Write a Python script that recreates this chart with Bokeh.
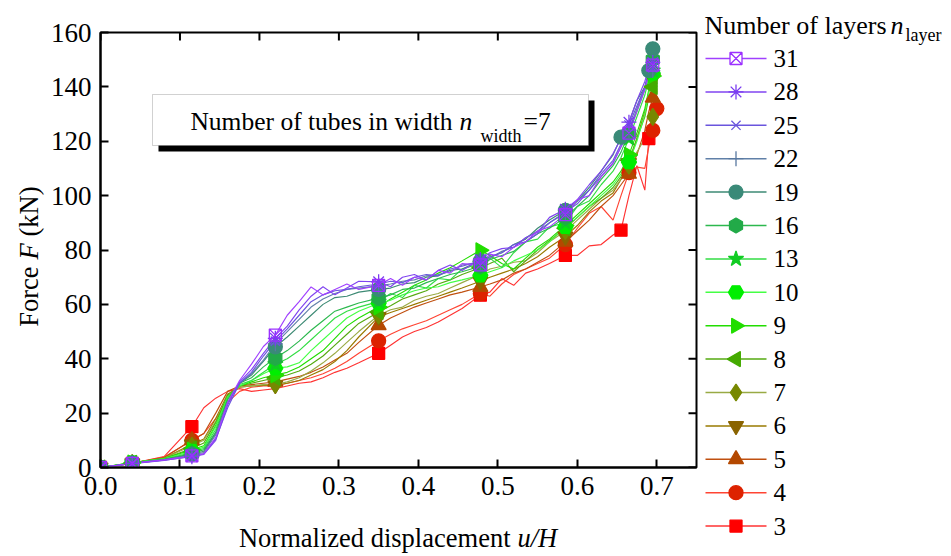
import math
from bokeh.plotting import figure
from bokeh.models import Range1d, FixedTicker, Label, BoxAnnotation, NumeralTickFormatter
from bokeh.embed import file_html
from bokeh.resources import INLINE
from bokeh.core.properties import value

# ---------------- data ----------------
x_grid = [0.0, 0.04, 0.08, 0.115, 0.13, 0.145, 0.16, 0.175, 0.19, 0.205, 0.22, 0.235, 0.25,
          0.265, 0.28, 0.295, 0.31, 0.325, 0.35, 0.365, 0.38, 0.395, 0.41, 0.425, 0.44, 0.455,
          0.478, 0.49, 0.505, 0.52, 0.535, 0.55, 0.565, 0.585, 0.6, 0.615, 0.63, 0.645, 0.655,
          0.665, 0.675, 0.685, 0.69, 0.695, 0.70]

y_n31 = [0, 1.5, 2.8, 4.3, 5.0, 11, 24, 32, 38, 44.5, 48.7, 56, 61, 66.4, 63.5, 65.5, 67.5, 65.5, 67, 69.5,
         67, 70, 69, 72.5, 71.5, 75, 74.5, 78.5, 77.5, 81, 83, 87, 88.5, 93, 98.5, 100, 107, 112, 118, 123,
         131, 139, 145, 148, 141]
y_n28 = [0, 1.5, 2.7, 4.0, 4.8, 10, 23, 31.5, 36, 42, 47.5, 52, 58, 63, 66.5, 63.5, 66, 68.5, 68.3, 66.5,
         70, 71, 69, 72.5, 74.5, 72.5, 76.5, 79, 80.5, 81, 84.5, 86.5, 92, 95, 98.5, 104, 109, 115.5, 121, 127,
         135, 142, 147, 149, 138]
y_n25 = [0, 1.4, 2.6, 4.2, 5.0, 10.5, 22, 31, 35, 41, 46.5, 51, 56, 61, 63.5, 65, 65.5, 66.5, 67.5, 68.5,
         68, 70, 71, 70.5, 73, 74, 76, 77.5, 79, 82, 83, 86, 90, 94, 97, 102, 108, 113, 119, 126,
         133, 140, 145, 147, 140]
y_n22 = [0, 1.5, 2.8, 4.5, 5.5, 12, 24, 31, 34.5, 39.5, 45.5, 50, 54.5, 59, 62, 64, 65.5, 66, 66.8, 67.5,
         68.5, 69, 70.5, 71, 72, 74.5, 75.5, 77, 79.5, 81, 84.5, 87, 90, 93.5, 98, 102, 107, 112, 118, 124,
         132, 140, 144, 146, 139]
y_n19 = [0, 1.6, 2.9, 4.8, 6, 12.5, 24, 31, 34, 39, 44.4, 48, 52, 56, 60, 62.5, 63, 64.5, 65.5, 66,
         67.5, 68, 70, 70.5, 72.5, 73, 76, 77.5, 79, 82, 84, 88, 91, 94.6, 98, 103, 109, 115, 121.5, 127,
         135, 140, 146, 154, 141]
y_n16 = [0, 1.6, 3, 5, 6.5, 13, 25, 31, 33, 37, 40.3, 43, 46.5, 50.5, 54, 57.5, 59, 60.5, 62.3, 63.5,
         65.5, 66, 68, 69.5, 71, 72, 74, 76.5, 78, 79.5, 83, 86, 88, 92, 96, 100, 106, 111, 116, 123,
         131, 139, 145, 150, 143]
y_n13 = [0, 1.7, 3, 5.5, 7, 14, 25.5, 30.5, 32, 35, 38, 40, 43, 47, 51, 55, 57.5, 59, 61, 64,
         62.5, 67, 66, 69.5, 69, 73, 75, 77, 73.5, 79, 83, 84, 88.5, 90, 96, 98, 104, 109, 114, 121,
         129, 137, 143, 146, 140]
y_n10 = [0, 1.8, 3.2, 6, 7.5, 15, 26, 30, 32, 34.5, 36.5, 37, 38.5, 43, 47, 51, 55, 57.5, 60.4, 61.5,
         63.5, 65, 66, 66.5, 68, 69, 70.7, 72, 73.5, 76, 78, 80, 83, 88.5, 92, 96, 100, 104, 108, 112.3,
         120, 130, 138, 145, 149]
y_n9 = [0, 1.8, 3.3, 6.5, 8, 15.5, 26, 30, 31.5, 33, 34, 35, 37, 40, 43, 47.5, 52, 55, 59, 62,
        64.5, 67, 69, 71.5, 73.5, 76, 79.9, 78, 75, 73, 77, 81, 84, 89, 93, 97, 101, 105, 109, 115,
        123, 132, 139, 144, 141]
y_n8 = [0, 1.7, 3.3, 7, 9, 16.5, 26.5, 30, 31, 32, 33, 34, 35.5, 38, 41, 45, 49, 53, 57.2, 59.5,
        62, 63.5, 65, 67.5, 69, 71, 73.5, 75, 77, 72, 76, 80, 83.5, 88, 92, 96, 99, 103, 107, 113,
        121, 129, 136, 140, 144]
y_n7 = [0, 1.6, 3.4, 8, 10, 17, 26.5, 29.5, 30, 30.5, 30.5, 31.5, 33, 35.5, 38.5, 42, 46, 50, 56, 58,
        59, 61.5, 63, 64, 66, 68, 71, 73, 74, 75.5, 76, 79, 83, 87, 91, 95, 99, 102, 106, 111,
        116, 121, 125, 129, 135]
y_n6 = [0, 1.6, 3.5, 8.5, 10.5, 18, 27, 29.5, 30, 30.2, 30.3, 31, 32, 34, 36, 39, 43, 48, 55.4, 57,
        58.5, 60, 61.5, 63, 64.5, 66, 68.5, 70, 71.5, 73, 75, 77.5, 81, 85, 89, 94, 98, 101, 106, 112,
        121, 131, 138, 143, 141]
y_n5 = [0, 1.5, 3.7, 10, 12.5, 20, 28, 30, 30.5, 31, 31.5, 32.5, 33.5, 35, 37, 39.5, 42, 46, 52.3, 55,
        57, 59, 60.5, 62, 63.5, 64.5, 66.4, 67.5, 69, 71.5, 73, 75.5, 78, 83, 87, 91, 96, 100, 104, 108,
        115, 124, 131, 136, 139]
y_n4 = [0, 1.5, 3.8, 10, 12.5, 18, 24, 28, 29.5, 30, 30, 31, 32, 33, 34.5, 36.5, 39, 42, 46.6, 49,
        51, 52.5, 54, 56, 58, 60, 64, 63, 67.5, 71, 73, 75, 77, 82, 88, 93.5, 96, 91, 100, 108.5,
        110.5, 110, 118, 124, 132]
y_n3 = [0, 1.5, 4, 15, 22, 25.5, 28, 29, 28, 28.5, 29, 30, 31, 31.5, 33, 35, 36.5, 38.5, 42, 45,
        48, 50, 51.5, 53.5, 56, 58.5, 63.4, 64.5, 69.5, 67, 71.5, 73, 75, 78, 78, 81.5, 82, 85.5, 87.3, 100,
        111, 102, 121, 132, 142]

layer_labels = ["31", "28", "25", "22", "19", "16", "13", "10", "9", "8", "7", "6", "5", "4", "3"]
series = {"31": y_n31, "28": y_n28, "25": y_n25, "22": y_n22, "19": y_n19, "16": y_n16, "13": y_n13,
          "10": y_n10, "9": y_n9, "8": y_n8, "7": y_n7, "6": y_n6, "5": y_n5, "4": y_n4, "3": y_n3}

marker_idx_default = [0, 1, 3, 10, 18, 26, 33, 39, 43]
marker_idx = {"3": [0, 1, 3, 18, 26, 33, 38, 42],
              "4": [0, 1, 3, 18, 26, 33, 39, 43, 44],
              "19": [0, 1, 3, 10, 18, 26, 33, 38, 42, 43]}

x_ticks = [0.0, 0.1, 0.2, 0.3, 0.4, 0.5, 0.6, 0.7]
y_ticks = [0, 20, 40, 60, 80, 100, 120, 140, 160]

# ---------------- styles ----------------
P2 = math.pi / 2
style = {
    "31": dict(line="#a040ff", marker="square_x", mc="#9b30ff", fill=None, size=12, angle=0),
    "28": dict(line="#8044f0", marker="asterisk", mc="#7a3cf0", fill=None, size=15, angle=0),
    "25": dict(line="#6a55dd", marker="x", mc="#6a55dd", fill=None, size=13, angle=0),
    "22": dict(line="#6080a8", marker="cross", mc="#5878a0", fill=None, size=15, angle=0),
    "19": dict(line="#3d8a74", marker="circle", mc="#3a8a78", fill="#3a8a78", size=14, angle=0),
    "16": dict(line="#2cb84e", marker="hex", mc="#22aa48", fill="#22aa48", size=15, angle=P2),
    "13": dict(line="#33dd44", marker="star", mc="#11cc22", fill="#11cc22", size=16, angle=0),
    "10": dict(line="#44ff44", marker="hex", mc="#00ee00", fill="#00ee00", size=15, angle=0),
    "9": dict(line="#22dd00", marker="triangle", mc="#22dd00", fill="#22dd00", size=15, angle=-P2),
    "8": dict(line="#55aa11", marker="triangle", mc="#44aa00", fill="#44aa00", size=15, angle=P2),
    "7": dict(line="#99aa44", marker="diamond", mc="#778800", fill="#778800", size=17, angle=0),
    "6": dict(line="#997a00", marker="inverted_triangle", mc="#8a6400", fill="#8a6400", size=15, angle=0),
    "5": dict(line="#c05010", marker="triangle", mc="#b44800", fill="#b44800", size=15, angle=0),
    "4": dict(line="#ff4433", marker="circle", mc="#dd2200", fill="#dd2200", size=14, angle=0),
    "3": dict(line="#ff3333", marker="square", mc="#ff0000", fill="#ff0000", size=12, angle=0),
}

FONT = "Liberation Serif, Times New Roman, Times, serif"
W, H = 951, 556
FL, FR, FT, FB = 100, 696, 32, 467

# ---------------- main figure ----------------
p = figure(width=W, height=H, x_range=Range1d(0, 0.75), y_range=Range1d(0, 160),
           output_backend="svg", toolbar_location=None, title=None,
           min_border_left=FL, min_border_right=W - FR, min_border_top=FT, min_border_bottom=H - FB)
p.grid.visible = False
p.outline_line_color = "black"
p.outline_line_width = 2


def px2x(px):
    return (px - FL) / (FR - FL) * 0.75


def py2y(py):
    return (FB - py) / (FB - FT) * 160


for ax in (p.xaxis[0], p.yaxis[0]):
    ax.axis_line_width = 2
    ax.axis_line_color = "black"
    ax.major_tick_line_width = 2
    ax.major_tick_in = 8
    ax.major_tick_out = 0
    ax.minor_tick_line_color = None
    ax.major_label_text_font = FONT
    ax.major_label_text_font_size = "27px"
    ax.major_label_text_color = "black"
    ax.major_label_standoff = 9
p.xaxis.ticker = FixedTicker(ticks=x_ticks)
p.xaxis.formatter = NumeralTickFormatter(format="0.0")
p.yaxis.ticker = FixedTicker(ticks=y_ticks)

# inward ticks on the top and right edges of the frame
tick_dx = px2x(FL + 8)
tick_dy = 160 - py2y(FT + 8)
p.segment(x0=x_ticks, y0=[160] * len(x_ticks), x1=x_ticks, y1=[160 - tick_dy] * len(x_ticks),
          line_color="black", line_width=2)
p.segment(x0=[0.75] * len(y_ticks), y0=y_ticks, x1=[0.75 - tick_dx] * len(y_ticks), y1=y_ticks,
          line_color="black", line_width=2)

for lab in reversed(layer_labels):
    st = style[lab]
    p.line(x_grid, series[lab], line_color=st["line"], line_width=1.15)
for lab in reversed(layer_labels):
    st = style[lab]
    ys = series[lab]
    idx = marker_idx.get(lab, marker_idx_default)
    p.scatter([x_grid[i] for i in idx], [ys[i] for i in idx], marker=st["marker"], size=st["size"],
              line_color=st["mc"], fill_color=st["fill"], line_width=1.3, angle=st["angle"])

# annotation box with shadow
p.add_layout(BoxAnnotation(left=px2x(158), right=px2x(594), top=py2y(100), bottom=py2y(151),
                           fill_color="black", fill_alpha=1, line_color=None))
p.add_layout(BoxAnnotation(left=px2x(152), right=px2x(588), top=py2y(94), bottom=py2y(145),
                           fill_color="white", fill_alpha=1, line_color="#666666", line_width=1))


def box_text(txt, px, py, size, style_="normal", align="left"):
    p.add_layout(Label(x=px2x(px), y=py2y(py), text=txt, text_font=FONT, text_font_size=size,
                       text_font_style=style_, text_align=align, text_baseline="alphabetic",
                       text_color="black"))


box_text("Number of tubes in width", 452, 121, "25.5px", align="right")
box_text("n", 459, 121, "25.5px", style_="italic")
box_text("width", 480, 135, "18px")
box_text("=7", 523, 121, "25.5px")

# ---------------- overlay figure (titles + legend), pixel coordinates ----------------
q = figure(width=W, height=H, x_range=Range1d(0, W), y_range=Range1d(H, 0),
           output_backend="svg", toolbar_location=None, title=None,
           x_axis_location=None, y_axis_location=None, min_border=0)
q.grid.visible = False
q.outline_line_color = None
q.background_fill_alpha = 0
q.border_fill_alpha = 0
q.styles = {"position": "absolute", "left": "0px", "top": "0px"}


def qtext(txt, px, py, size, style_="normal", align="left", baseline="alphabetic", angle=0):
    q.text([px], [py], text=[txt], text_font=value(FONT), text_font_size=size,
           text_font_style=style_, text_align=align, text_baseline=baseline, angle=angle,
           text_color="black")


# axis titles
qtext("Normalized displacement", 510, 537, "26.5px", align="right", baseline="middle")
qtext("u/H", 517, 537, "26.5px", style_="italic", baseline="middle")
qtext("Force", 28, 266, "26.5px", align="right", baseline="middle", angle=P2)
qtext("F", 28, 251, "26.5px", style_="italic", align="center", baseline="middle", angle=P2)
qtext("(kN)", 28, 236, "26.5px", align="left", baseline="middle", angle=P2)

# legend
qtext("Number of layers", 886, 25, "26px", align="right")
qtext("n", 890, 25, "26px", style_="italic")
qtext("layer", 905, 34, "18px")
for i, lab in enumerate(layer_labels):
    st = style[lab]
    yy = 58 + i * 33.4
    q.segment([705], [yy], [766], [yy], line_color=st["line"], line_width=1.5)
    q.scatter([735.5], [yy], marker=st["marker"], size=st["size"], line_color=st["mc"],
              fill_color=st["fill"] if st["fill"] else "white", line_width=1.3, angle=st["angle"])
    qtext(lab, 773, yy, "25px", baseline="middle")

open("out.html", "w").write(file_html([p, q], INLINE))
